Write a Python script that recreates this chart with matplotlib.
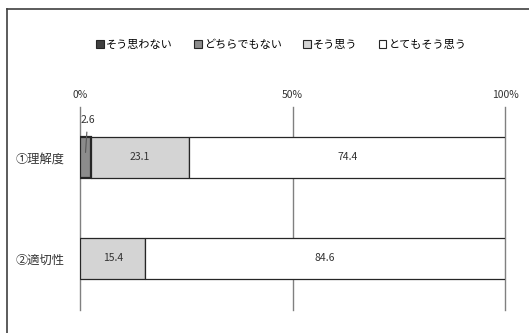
import matplotlib
matplotlib.use('Agg')
import matplotlib.pyplot as plt
import matplotlib.patches as mpatches
from matplotlib.lines import Line2D
import numpy as np

plt.rcParams['font.family'] = ['Noto Sans CJK JP', 'DejaVu Sans']

categories = ['①理解度', '②適切性']
series_names = ['そう思わない', 'どちらでもない', 'そう思う', 'とてもそう思う']
not_agree = [0.0, 0.0]
neutral = [2.6, 0.0]
agree = [23.1, 15.4]
strongly_agree = [74.4, 84.6]
x_ticks = [0, 50, 100]
x_ticklabels = ['0%', '50%', '100%']

colors = ['#404040', '#8c8c8c', '#d4d4d4', '#ffffff']


def main():
    fig = plt.figure(figsize=(5.29, 3.33), dpi=100)
    ax = fig.add_axes([80 / 529, 1 - 310 / 333, 425 / 529, 203 / 333])

    ind = np.arange(len(categories))
    height = 0.41
    left = np.zeros(len(categories))
    all_series = [not_agree, neutral, agree, strongly_agree]
    for vals, color in zip(all_series, colors):
        vals = np.array(vals)
        for i in ind:
            if vals[i] <= 0:
                continue
            lw = 1.6 if vals[i] < 5 else 0.9
            ax.barh(i, vals[i], height, left=left[i], color=color,
                    edgecolor='#262626', linewidth=lw, zorder=3)
            if vals[i] >= 5:
                ax.text(left[i] + vals[i] / 2, i, '{:.1f}'.format(vals[i]),
                        ha='center', va='center', fontsize=7.5, color='#333333', zorder=4)
            else:
                # small segment: label above the bar with a leader line
                ax.annotate('{:.1f}'.format(vals[i]), xy=(left[i] + vals[i] / 2, i - 0.05),
                            xytext=(left[i] + vals[i] / 2 + 0.5, i - 0.37),
                            ha='center', va='center', fontsize=7.5, color='#333333',
                            arrowprops=dict(arrowstyle='-', color='#595959', lw=0.8,
                                            shrinkA=3, shrinkB=0), zorder=5)
        left = left + vals

    ax.set_xlim(0, 100)
    ax.set_ylim(1.51, -0.5)
    ax.set_yticks(ind)
    ax.set_yticklabels(categories, fontsize=8.8, color='#333333')
    ax.tick_params(axis='y', length=0, pad=11)
    ax.xaxis.tick_top()
    ax.set_xticks(x_ticks)
    ax.set_xticklabels(x_ticklabels, fontsize=7.5, color='#333333')
    ax.tick_params(axis='x', length=0, pad=5)
    for x in x_ticks[1:]:
        ax.axvline(x, color='#808080', linewidth=1.0, zorder=1, clip_on=False)
    for s in ['top', 'right', 'bottom']:
        ax.spines[s].set_visible(False)
    ax.spines['left'].set_color('#808080')
    ax.spines['left'].set_linewidth(1.0)

    handles = [mpatches.Patch(facecolor=c, edgecolor='#262626', linewidth=0.8) for c in colors]
    fig.legend(handles, series_names, loc='center', bbox_to_anchor=(0.532, 1 - 45 / 333),
               ncol=4, frameon=False, fontsize=8, handlelength=0.7, handleheight=0.7,
               handletextpad=0.2, columnspacing=1.9)

    # outer chart frame
    fig.add_artist(Line2D([7 / 529, 1], [1 - 9 / 333, 1 - 9 / 333], color='#404040', linewidth=1.2))
    fig.add_artist(Line2D([7 / 529, 7 / 529], [0, 1 - 9 / 333], color='#404040', linewidth=1.2))

    fig.savefig('out.png', dpi=100)


if __name__ == '__main__':
    main()
